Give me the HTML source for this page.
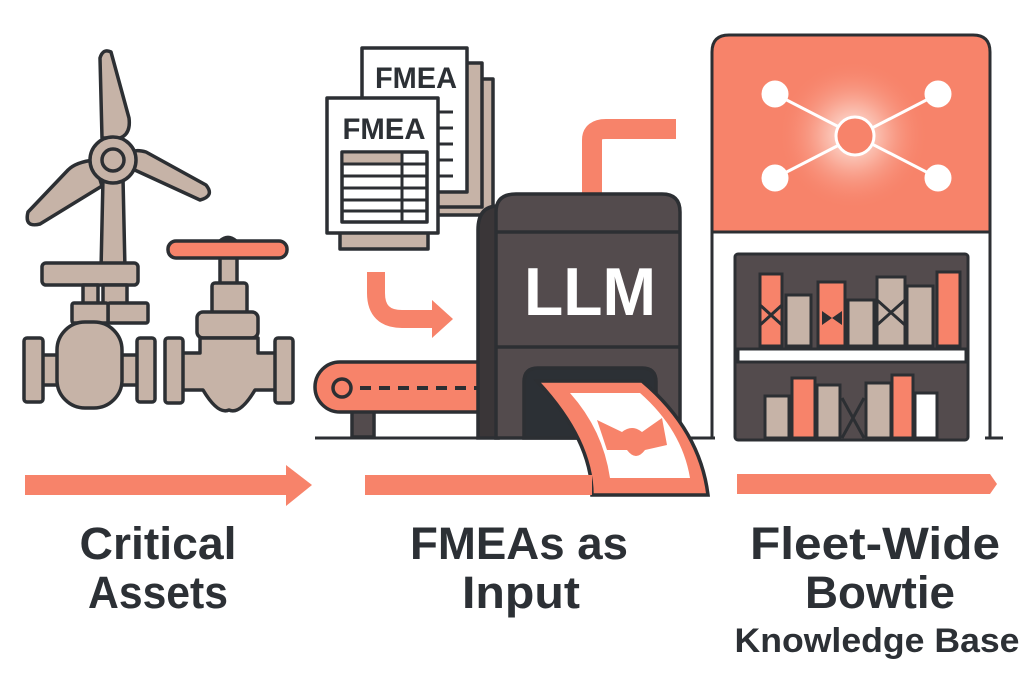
<!DOCTYPE html>
<html><head><meta charset="utf-8"><style>
html,body{margin:0;padding:0;background:#fff;}
svg{display:block;}
text{font-family:"Liberation Sans",sans-serif;font-weight:bold;fill:#2c3035;}
</style></head><body>
<svg width="1024" height="684" viewBox="0 0 1024 684" xmlns="http://www.w3.org/2000/svg">
<defs>
<radialGradient id="glow" cx="0.5" cy="0.5" r="0.5">
<stop offset="0" stop-color="#fff" stop-opacity="0.9"/>
<stop offset="0.4" stop-color="#fde0d6" stop-opacity="0.5"/>
<stop offset="1" stop-color="#f7836a" stop-opacity="0"/>
</radialGradient>
</defs>
<g stroke="#2c2f33" stroke-width="3.5" stroke-linejoin="round" fill="#c6b3a7">
<!-- turbine -->
<path d="M102,138 L100,58 Q103,48 111,52 L129,118 Q131,134 120,138 Z"/>
<path d="M94,160 Q76,162 68,170 L28,212 Q24,228 40,224 L102,186 Z"/>
<path d="M126,166 L200,200 Q215,196 206,185 L146,152 Q132,148 128,156 Z"/>
<path d="M101,270 L103,178 L123,178 L125,270 Z"/>
<circle cx="113" cy="160" r="23"/>
<circle cx="113" cy="160" r="11"/>
<rect x="42" y="263" width="96" height="22" rx="4"/>
<rect x="83" y="285" width="15" height="20"/>
<rect x="103" y="285" width="24" height="20"/>
<rect x="108" y="303" width="40" height="20" rx="2"/>
<rect x="72" y="303" width="36" height="20" rx="2"/>
<rect x="42" y="355" width="100" height="30"/>
<rect x="57" y="322" width="65" height="86" rx="28"/>
<rect x="24" y="338" width="19" height="64" rx="3"/>
<rect x="137" y="338" width="18" height="64" rx="3"/>
<!-- valve 2 -->
<rect x="220" y="256" width="17" height="30"/>
<rect x="212" y="283" width="35" height="30" rx="3"/>
<rect x="197" y="312" width="61" height="26" rx="6"/>
<path d="M200,338 H258 V353 H276 V390 H255 Q240,415 229,410 Q218,415 203,390 H181 V353 H200 Z"/>
<rect x="165" y="338" width="18" height="65" rx="3"/>
<rect x="275" y="338" width="18" height="65" rx="3"/>
<path d="M220,241 Q228,234 236,241 Z" fill="#2c2f33"/>
<rect x="168" y="241" width="119" height="17" rx="8" fill="#f7836a"/>
<!-- FMEA docs -->
<rect x="388" y="79" width="105" height="136" fill="#c6b3a7"/>
<rect x="380" y="63" width="102" height="144" fill="#c6b3a7"/>
<rect x="362" y="48" width="105" height="144" fill="#fff"/>
<rect x="340" y="225" width="88" height="24" fill="#c6b3a7"/>
<rect x="327" y="98" width="111" height="135" fill="#fff"/>
<rect x="342" y="152" width="85" height="70" fill="#fff"/>
<rect x="343.5" y="153.5" width="58" height="9" fill="#c6b3a7" stroke="none"/>
</g>
<g stroke="#2c2f33" stroke-width="3">
<line x1="342" y1="164" x2="427" y2="164"/><line x1="342" y1="176" x2="427" y2="176"/>
<line x1="342" y1="188" x2="427" y2="188"/><line x1="342" y1="200" x2="427" y2="200"/>
<line x1="342" y1="211" x2="427" y2="211"/><line x1="402" y1="152" x2="402" y2="222"/>
<line x1="438" y1="112" x2="453" y2="112"/><line x1="438" y1="128" x2="453" y2="128"/>
<line x1="438" y1="144" x2="453" y2="144"/><line x1="438" y1="160" x2="453" y2="160"/>
<line x1="438" y1="176" x2="453" y2="176"/>
</g>
<text x="416" y="88" font-size="30" text-anchor="middle" textLength="82" lengthAdjust="spacingAndGlyphs">FMEA</text>
<text x="384" y="139" font-size="30" text-anchor="middle" textLength="83" lengthAdjust="spacingAndGlyphs">FMEA</text>
<!-- curved arrow -->
<path d="M376,272 V293 Q376,319 402,319 H434" fill="none" stroke="#f7836a" stroke-width="18"/>
<polygon points="432,300 453,319 432,338" fill="#f7836a"/>
<!-- ground line -->
<line x1="315" y1="438" x2="715" y2="438" stroke="#2c2f33" stroke-width="3"/>
<line x1="985" y1="438" x2="1003" y2="438" stroke="#2c2f33" stroke-width="3"/>
<!-- conveyor -->
<g stroke="#2c2f33" stroke-width="3.5">
<rect x="352" y="410" width="22" height="27" fill="#534b4d"/>
<path d="M340,362 H500 V412 H340 A25,25 0 0 1 340,362 Z" fill="#f7836a"/>
<circle cx="342" cy="388" r="9" fill="#f7836a"/>
</g>
<line x1="360" y1="388" x2="500" y2="388" stroke="#2c2f33" stroke-width="4" stroke-dasharray="11,8"/>
<!-- pipe -->
<path d="M592,200 V140 Q592,129 606,129 H676" fill="none" stroke="#f7836a" stroke-width="20"/>
<!-- LLM machine -->
<g stroke="#2c2f33" stroke-width="3.5">
<path d="M478,438 V230 Q478,206 498,206 L498,438 Z" fill="#3a3638"/>
<path d="M496,438 V212 Q496,194 516,194 H662 Q680,194 680,212 V438 Z" fill="#534b4d"/>
<line x1="496" y1="232" x2="680" y2="232"/>
<line x1="496" y1="347" x2="680" y2="347"/>
<path d="M524,438 V382 Q524,368 538,368 H642 Q656,368 656,382 V438 Z" fill="#2c3035"/>
<path d="M537,381 H642 Q700,430 708,495 H592 Q592,440 537,381 Z" fill="#f7836a"/>
</g>
<path d="M570,393 H640 Q682,430 690,478 H610 Q603,430 570,393 Z" fill="#fff"/>
<path d="M597,420 L622,432 Q632,424 642,432 L662,418 L667,445 L645,450 Q636,462 627,450 L607,450 Z" fill="#f7836a"/>
<text x="590" y="315" font-size="68" text-anchor="middle" style="fill:#fff" textLength="132" lengthAdjust="spacingAndGlyphs">LLM</text>
<!-- knowledge base -->
<path d="M712,438 V232 M990,232 V438" stroke="#2c2f33" stroke-width="3" fill="none"/>
<path d="M712,232 V52 Q712,35 729,35 H973 Q990,35 990,52 V232 Z" fill="#f7836a" stroke="#2c2f33" stroke-width="3"/>
<circle cx="853" cy="135" r="75" fill="url(#glow)"/>
<g stroke="#fff" stroke-width="3" fill="#fff">
<line x1="775" y1="94" x2="938" y2="178"/><line x1="938" y1="94" x2="775" y2="178"/>
<circle cx="775" cy="94" r="12"/><circle cx="938" cy="94" r="12"/>
<circle cx="775" cy="178" r="12"/><circle cx="938" cy="178" r="12"/>
<circle cx="855" cy="136" r="19" fill="#f7836a"/>
</g>
<g stroke="#2c2f33" stroke-width="3">
<rect x="735" y="254" width="233" height="186" rx="3" fill="#534b4d"/>
<rect x="738" y="349" width="228" height="13" fill="#fff"/>
<rect x="760" y="274" width="22" height="72" fill="#f7836a"/>
<rect x="786" y="295" width="25" height="51" fill="#c6b3a7"/>
<rect x="818" y="282" width="27" height="64" fill="#f7836a"/>
<rect x="848" y="300" width="26" height="46" fill="#c6b3a7"/>
<rect x="877" y="277" width="28" height="69" fill="#c6b3a7"/>
<rect x="907" y="286" width="26" height="60" fill="#c6b3a7"/>
<rect x="937" y="272" width="23" height="74" fill="#f7836a"/>
<path d="M760,305 L782,325 M760,325 L782,305 M877,300 L905,325 M877,325 L905,300" fill="none"/>
<rect x="765" y="396" width="24" height="42" fill="#c6b3a7"/>
<rect x="792" y="378" width="23" height="60" fill="#f7836a"/>
<rect x="817" y="385" width="23" height="53" fill="#c6b3a7"/>
<path d="M842,398 L864,438 M842,438 L864,398" fill="none"/>
<rect x="866" y="383" width="25" height="55" fill="#c6b3a7"/>
<rect x="892" y="375" width="21" height="63" fill="#f7836a"/>
<rect x="915" y="393" width="22" height="45" fill="#fff"/>
</g>
<path d="M822,311 L832,318 L822,325 Z M842,311 L832,318 L842,325 Z" fill="#2c2f33"/>
<!-- arrows -->
<rect x="25" y="475" width="265" height="20" fill="#f7836a"/>
<polygon points="286,465 312,485 286,506" fill="#f7836a"/>
<rect x="365" y="475" width="227" height="20" fill="#f7836a"/>
<polygon points="737,474 990,474 997,484 990,494 737,494" fill="#f7836a"/>
<!-- labels -->
<text x="158" y="559" font-size="45" text-anchor="middle" textLength="157" lengthAdjust="spacingAndGlyphs">Critical</text>
<text x="158" y="608" font-size="45" text-anchor="middle" textLength="140" lengthAdjust="spacingAndGlyphs">Assets</text>
<text x="519" y="559" font-size="45" text-anchor="middle" textLength="218" lengthAdjust="spacingAndGlyphs">FMEAs as</text>
<text x="521" y="608" font-size="45" text-anchor="middle" textLength="118" lengthAdjust="spacingAndGlyphs">Input</text>
<text x="875" y="559" font-size="45" text-anchor="middle" textLength="250" lengthAdjust="spacingAndGlyphs">Fleet-Wide</text>
<text x="880" y="608" font-size="45" text-anchor="middle" textLength="150" lengthAdjust="spacingAndGlyphs">Bowtie</text>
<text x="877" y="652" font-size="34" text-anchor="middle" textLength="285" lengthAdjust="spacingAndGlyphs">Knowledge Base</text>
</svg>
</body></html>
